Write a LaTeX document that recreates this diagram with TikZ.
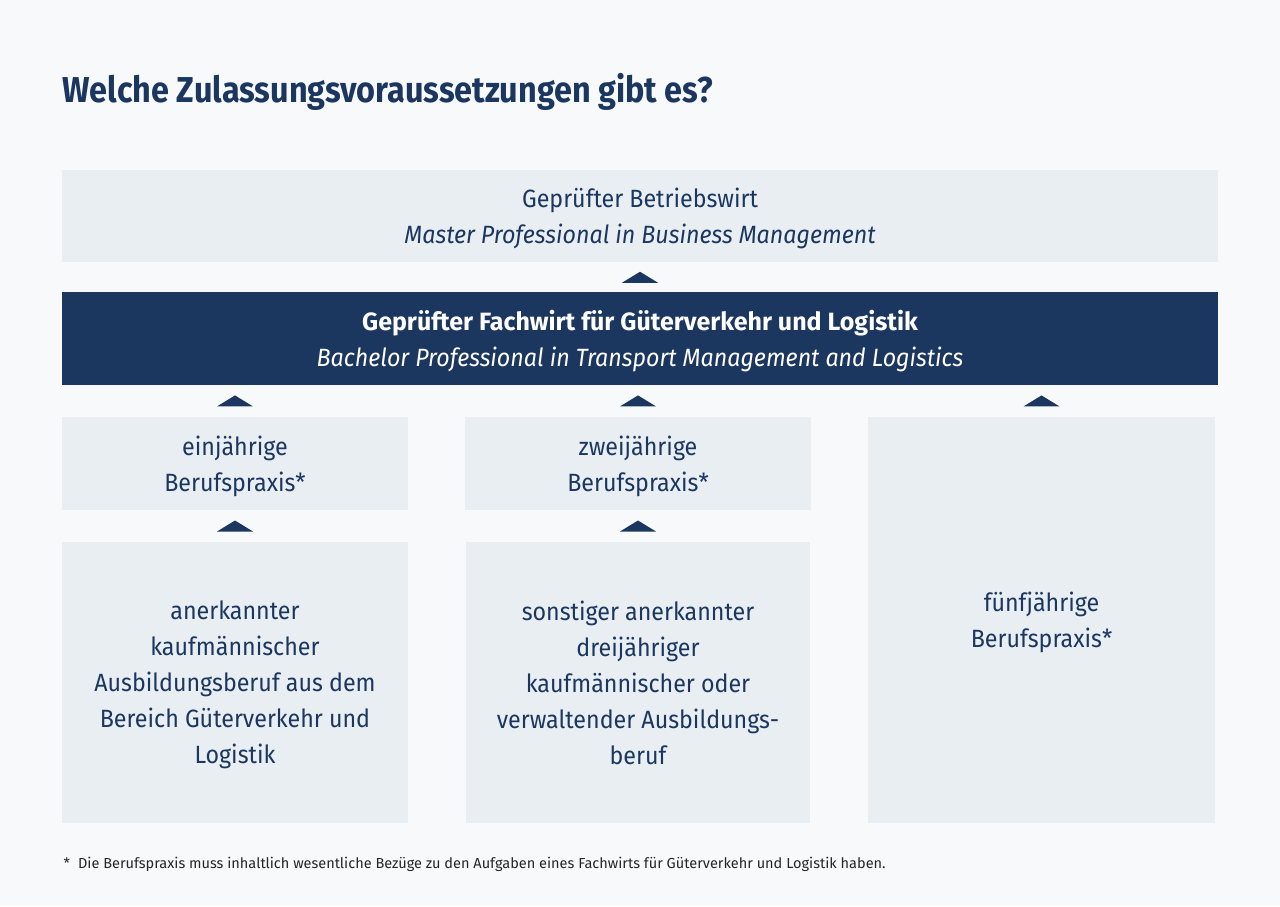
\documentclass[tikz,border=0pt]{standalone}
\usepackage{fontspec}
\setmainfont{Fira Sans}
\newfontfamily\narrowfont{Fira Sans}[FakeStretch=0.93]
\usetikzlibrary{calc}
\definecolor{navy}{HTML}{1B365F}
\definecolor{panel}{HTML}{E9EEF3}
\definecolor{paper}{HTML}{F7F9FB}
\newcommand{\uptip}[2]{\fill[navy] ($(#1.north)!0.5!(#1.north |- #2.south)$) ++(-18,5.5) -- ++(36,0) -- ++(-18,-11) -- cycle;}
\begin{document}
\begin{tikzpicture}[
                    x=0.75pt, y=-0.75pt,
                    box/.style={fill=panel, text=navy, align=center, inner sep=0pt,
                                font=\narrowfont\fontsize{18.75}{27}\selectfont, text depth=-1.75pt},
                    headbox/.style={box, fill=navy, text=white},
                    wide/.style={minimum width=867pt, minimum height=69.5pt},
                    small/.style={minimum width=259.5pt, minimum height=69.75pt}
                    ]

                    \fill[paper] (0,0) rectangle (1280,906);
                    \useasboundingbox (0,0) rectangle (1280,906);

                    \node [anchor=base west, text=navy, font=\fontsize{27}{32}\selectfont\bfseries\addfontfeature{FakeStretch=0.9}] (title) at (58,103) {Welche Zulassungsvoraussetzungen gibt es?};

                    \node [box, wide] (master) at (640,216) {Geprüfter Betriebswirt\\\textit{Master Professional in Business Management}};
                    \node [headbox, wide] (fachwirt) at (640,338.5) {{\rmfamily\bfseries Geprüfter Fachwirt für Güterverkehr und Logistik}\\\textit{Bachelor Professional in Transport Management and Logistics}};

                    \node [box, small] (ein) at (235,463.5) {einjährige\\Berufspraxis*};
                    \node [box, small] (zwei) at (638,463.5) {zweijährige\\Berufspraxis*};
                    \node [box, minimum width=260.25pt, minimum height=304.5pt] (fuenf) at (1041.5,620) {fünfjährige\\Berufspraxis*};

                    \node [box, minimum width=259.5pt, minimum height=210.75pt] (ausb1) at (235,682.5) {anerkannter\\kaufmännischer\\Ausbildungsberuf aus dem\\Bereich Güterverkehr und\\Logistik};
                    \node [box, minimum width=258pt, minimum height=210.75pt] (ausb2) at (638,682.5) {sonstiger anerkannter\\dreijähriger\\kaufmännischer oder\\verwaltender Ausbildungs-\\beruf};

                    \uptip{fachwirt}{master}
                    \uptip{ein}{fachwirt}
                    \uptip{zwei}{fachwirt}
                    \uptip{fuenf}{fachwirt}
                    \uptip{ausb1}{ein}
                    \uptip{ausb2}{zwei}

                    \node [anchor=base west, text=black!85, font=\fontsize{10.9}{13}\selectfont] (note) at (59,868) {*\hspace{6pt}Die Berufspraxis muss inhaltlich wesentliche Bezüge zu den Aufgaben eines Fachwirts für Güterverkehr und Logistik haben.};
                \end{tikzpicture}
\end{document}
